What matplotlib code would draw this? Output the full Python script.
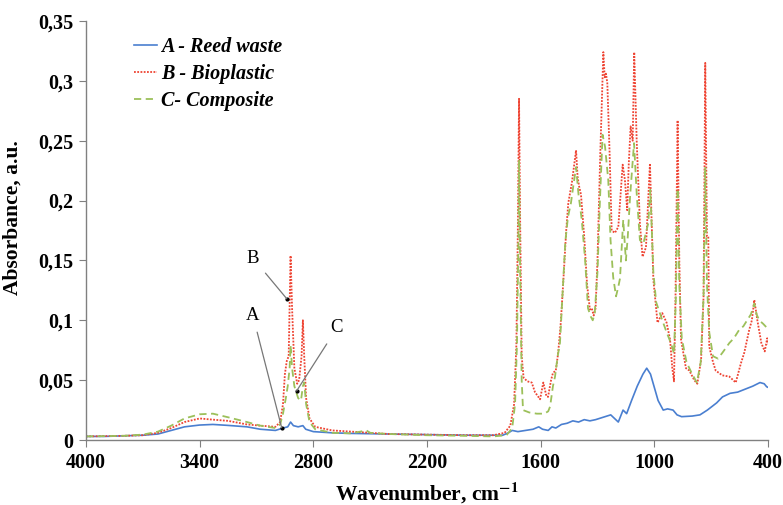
import matplotlib
matplotlib.use("Agg")
import matplotlib.pyplot as plt

# --- A - Reed waste
wn_a = [4000, 3900, 3800, 3700, 3620, 3550, 3480, 3400, 3330, 3250, 3150, 3080, 3000,
        2960, 2935, 2920, 2905, 2880, 2855, 2840, 2800, 2700, 2600, 2400, 2200, 2000,
        1800, 1770, 1750, 1720, 1680, 1640, 1610, 1590, 1560, 1540, 1520, 1490, 1460,
        1430, 1400, 1370, 1340, 1310, 1270, 1230, 1210, 1190, 1165, 1146, 1120, 1090,
        1060, 1040, 1020, 1000, 980, 953, 930, 901, 880, 856, 800, 759, 720, 671, 640,
        600, 560, 512, 480, 442, 420, 407, 400]
abs_a = [0.003, 0.003, 0.0035, 0.004, 0.005, 0.008, 0.011, 0.0125, 0.013, 0.0122, 0.011,
         0.009, 0.008, 0.010, 0.011, 0.015, 0.012, 0.011, 0.012, 0.009, 0.007, 0.006,
         0.0055, 0.005, 0.0045, 0.004, 0.004, 0.006, 0.008, 0.007, 0.008, 0.009, 0.011,
         0.009, 0.008, 0.011, 0.010, 0.013, 0.014, 0.016, 0.015, 0.017, 0.016, 0.017,
         0.019, 0.021, 0.018, 0.015, 0.025, 0.022, 0.033, 0.045, 0.055, 0.060, 0.055,
         0.044, 0.033, 0.025, 0.026, 0.025, 0.021, 0.0195, 0.020, 0.021, 0.025, 0.031,
         0.036, 0.039, 0.040, 0.043, 0.045, 0.048, 0.047, 0.0445, 0.044]

# --- B - Bioplastic
wn_b = [4000, 3800, 3700, 3620, 3550, 3480, 3400, 3330, 3250, 3150, 3080, 3000, 2975,
        2960, 2950, 2940, 2930, 2925, 2920, 2912, 2900, 2885, 2875, 2862, 2855, 2848,
        2838, 2820, 2790, 2700, 2600, 2500, 2400, 2200, 2000, 1850, 1790, 1760, 1740,
        1728, 1720, 1714, 1708, 1700, 1690, 1670, 1647, 1630, 1603, 1586, 1570, 1561,
        1545, 1535, 1520, 1508, 1495, 1482, 1465, 1454, 1435, 1413, 1405, 1397, 1387,
        1370, 1355, 1340, 1330, 1320, 1310, 1300, 1285, 1269, 1262, 1255, 1248, 1236,
        1225, 1208, 1190, 1178, 1167, 1155, 1143, 1135, 1125, 1114, 1106, 1093, 1076,
        1062, 1044, 1023, 1005, 983, 958, 935, 917, 905, 896, 888, 877, 868, 859, 833,
        815, 789, 773, 753, 740, 731, 722, 715, 710, 690, 676, 641, 604, 570, 543, 525,
        499, 485, 472, 456, 445, 435, 417, 404, 400]
abs_b = [0.003, 0.0035, 0.004, 0.006, 0.010, 0.015, 0.018, 0.017, 0.016, 0.013, 0.012,
         0.011, 0.015, 0.030, 0.055, 0.066, 0.070, 0.110, 0.154, 0.110, 0.060, 0.047,
         0.050, 0.070, 0.100, 0.070, 0.035, 0.018, 0.011, 0.008, 0.007, 0.006, 0.005,
         0.0045, 0.004, 0.004, 0.006, 0.012, 0.030, 0.080, 0.180, 0.285, 0.180, 0.070,
         0.052, 0.049, 0.048, 0.040, 0.034, 0.048, 0.037, 0.036, 0.050, 0.056, 0.058,
         0.072, 0.095, 0.128, 0.175, 0.198, 0.215, 0.242, 0.220, 0.212, 0.205, 0.170,
         0.130, 0.109, 0.110, 0.104, 0.110, 0.150, 0.240, 0.324, 0.303, 0.306, 0.298,
         0.240, 0.175, 0.173, 0.178, 0.205, 0.230, 0.217, 0.192, 0.230, 0.262, 0.250,
         0.324, 0.250, 0.181, 0.153, 0.161, 0.231, 0.134, 0.098, 0.106, 0.098, 0.084,
         0.060, 0.049, 0.120, 0.267, 0.150, 0.084, 0.060, 0.058, 0.050, 0.047, 0.067,
         0.120, 0.315, 0.170, 0.170, 0.078, 0.065, 0.058, 0.054, 0.053, 0.048, 0.064,
         0.073, 0.092, 0.100, 0.117, 0.100, 0.090, 0.081, 0.074, 0.085, 0.080]

# --- C - Composite
wn_c = [4000, 3800, 3700, 3620, 3550, 3480, 3400, 3330, 3250, 3150, 3080, 3000, 2975,
        2960, 2945, 2935, 2925, 2920, 2912, 2900, 2880, 2865, 2855, 2848, 2838, 2820,
        2790, 2700, 2600, 2520, 2500, 2400, 2200, 2000, 1850, 1780, 1750, 1735, 1725,
        1718, 1714, 1708, 1700, 1693, 1660, 1620, 1580, 1560, 1550, 1535, 1524, 1510,
        1498, 1485, 1470, 1456, 1440, 1425, 1413, 1400, 1383, 1365, 1350, 1335, 1325,
        1315, 1300, 1287, 1273, 1260, 1243, 1231, 1217, 1202, 1190, 1181, 1164, 1150,
        1140, 1128, 1107, 1093, 1076, 1058, 1032, 1021, 1005, 990, 960, 935, 910, 896,
        886, 877, 868, 855, 830, 800, 775, 755, 740, 731, 722, 710, 690, 664, 640, 604,
        580, 552, 530, 510, 490, 472, 460, 446, 425, 407, 400]
abs_c = [0.003, 0.0035, 0.0045, 0.007, 0.012, 0.018, 0.0215, 0.022, 0.019, 0.015, 0.012,
         0.010, 0.013, 0.022, 0.035, 0.045, 0.060, 0.079, 0.060, 0.045, 0.035, 0.033,
         0.045, 0.048, 0.030, 0.015, 0.009, 0.006, 0.0055, 0.008, 0.006, 0.005, 0.004,
         0.0035, 0.003, 0.004, 0.010, 0.030, 0.080, 0.160, 0.234, 0.140, 0.050, 0.025,
         0.023, 0.022, 0.022, 0.024, 0.028, 0.045, 0.053, 0.070, 0.081, 0.120, 0.165,
         0.186, 0.198, 0.215, 0.228, 0.205, 0.184, 0.150, 0.110, 0.103, 0.100, 0.105,
         0.140, 0.200, 0.255, 0.245, 0.217, 0.167, 0.136, 0.120, 0.128, 0.135, 0.184,
         0.150, 0.170, 0.203, 0.248, 0.206, 0.167, 0.164, 0.181, 0.209, 0.140, 0.115,
         0.101, 0.090, 0.080, 0.072, 0.120, 0.210, 0.130, 0.085, 0.065, 0.055, 0.048,
         0.065, 0.120, 0.228, 0.130, 0.090, 0.070, 0.068, 0.073, 0.081, 0.085, 0.092,
         0.095, 0.100, 0.105, 0.114, 0.105, 0.100, 0.097, 0.094, 0.092]

labels = ["A - Reed waste", "B - Bioplastic", "C- Composite"]
x_ticks = [4000, 3400, 2800, 2200, 1600, 1000, 400]
y_ticks = [0, 0.05, 0.1, 0.15, 0.2, 0.25, 0.3, 0.35]
y_tick_labels = ["0", "0,05", "0,1", "0,15", "0,2", "0,25", "0,3", "0,35"]

# annotation letters: (label, text position, pointed position)
notes = [("B", (3119, 0.152), (2940, 0.118)),
         ("A", (3119, 0.104), (2967, 0.0103)),
         ("C", (2675, 0.0936), (2888, 0.041))]

plt.rcParams["font.family"] = ["Liberation Serif", "DejaVu Serif"]
plt.rcParams["mathtext.fontset"] = "stix"

fig = plt.figure(figsize=(7.83, 5.05), dpi=100)
ax = fig.add_axes([0.1098, 0.1287, 0.8710, 0.8297])

ax.plot(wn_a, abs_a, color="#4a7fd0", lw=1.2, label=labels[0])
ax.plot(wn_b, abs_b, color="#ee4433", lw=1.3, ls=(0, (1, 0.8)), label=labels[1])
ax.plot(wn_c, abs_c, color="#9cc05a", lw=1.3, ls=(0, (4, 2.5)), label=labels[2])

for txt, tpos, ppos in notes:
    ax.annotate(txt, xy=ppos, xytext=tpos, fontsize=13.5, ha="center", va="center",
                arrowprops=dict(arrowstyle="-", color="#777777", lw=0.9,
                                shrinkA=4, shrinkB=0))
    ax.plot([ppos[0]], [ppos[1]], "o", color="black", ms=2)

ax.set_xlim(4000, 400)
ax.set_ylim(0, 0.35)
ax.set_xticks(x_ticks)
ax.set_yticks(y_ticks)
ax.set_yticklabels(y_tick_labels)
ax.tick_params(labelsize=14.5, direction="out", length=5, color="#808080", pad=4)
for lab in ax.get_xticklabels() + ax.get_yticklabels():
    lab.set_fontweight("bold")
for s in ["top", "right"]:
    ax.spines[s].set_visible(False)
for s in ["left", "bottom"]:
    ax.spines[s].set_color("#808080")
    ax.spines[s].set_linewidth(1.0)

ax.set_xlabel("Wavenumber, cm$^{\\mathbf{-1}}$", fontsize=15.5, fontweight="bold")
ax.set_ylabel("Absorbance, a.u.", fontsize=15.5, fontweight="bold")
ax.xaxis.set_label_coords(0.5, -0.095)
ax.yaxis.set_label_coords(-0.093, 0.53)

leg = ax.legend(loc="upper left", bbox_to_anchor=(0.056, 0.985), frameon=False,
                prop=dict(size=14.5, weight="bold", style="italic"),
                handlelength=1.15, handletextpad=0.2, labelspacing=0.35, borderpad=0)

fig.savefig("out.png", dpi=100)
